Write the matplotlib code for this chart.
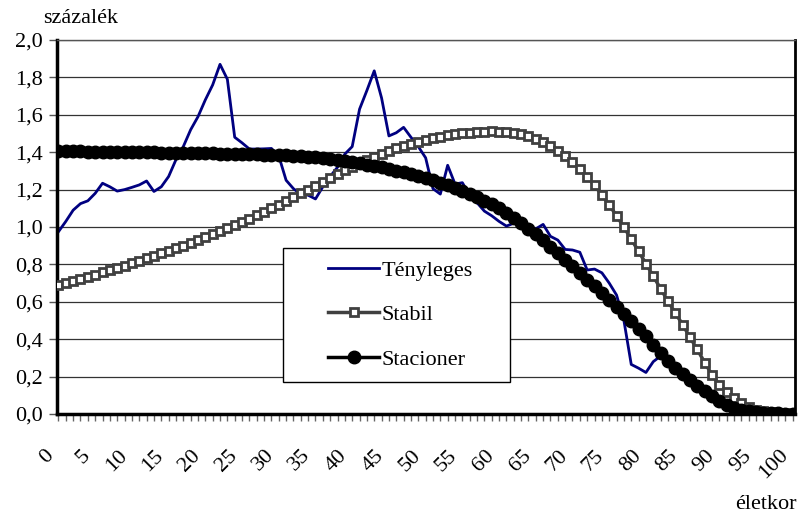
import matplotlib
matplotlib.use("Agg")
import matplotlib.pyplot as plt
from matplotlib.ticker import MultipleLocator, FuncFormatter
from matplotlib.patches import Rectangle
from matplotlib.transforms import ScaledTranslation

plt.rcParams['font.family'] = ['Liberation Serif', 'DejaVu Serif']

ages = list(range(0, 101))

tenyleges = [
    0.975, 1.03, 1.09, 1.125, 1.14, 1.18, 1.234, 1.215, 1.192, 1.20,
    1.212, 1.225, 1.246, 1.19, 1.215, 1.27, 1.36, 1.43, 1.52, 1.59,
    1.68, 1.76, 1.87, 1.79, 1.48, 1.45, 1.417, 1.417, 1.418, 1.42,
    1.38, 1.25, 1.205, 1.175, 1.17, 1.15, 1.215, 1.27, 1.32, 1.39,
    1.43, 1.63, 1.73, 1.835, 1.69, 1.487, 1.504, 1.533, 1.48, 1.43,
    1.37, 1.205, 1.176, 1.33, 1.23, 1.237, 1.17, 1.13, 1.085, 1.06,
    1.03, 1.005, 1.02, 1.01, 1.00, 0.99, 1.014, 0.95, 0.93, 0.88,
    0.877, 0.865, 0.77, 0.775, 0.755, 0.70, 0.636, 0.50, 0.265, 0.245,
    0.222, 0.28, 0.31, 0.275, 0.24, 0.205, 0.17, 0.14, 0.115, 0.09,
    0.068, 0.05, 0.035, 0.024, 0.016, 0.010, 0.007, 0.005, 0.003, 0.002,
    0.001,
]

stabil = [
    0.690, 0.700, 0.711, 0.722, 0.733, 0.745, 0.757, 0.769, 0.781, 0.794,
    0.807, 0.820, 0.833, 0.846, 0.860, 0.873, 0.887, 0.901, 0.915, 0.930,
    0.945, 0.960, 0.976, 0.992, 1.009, 1.026, 1.044, 1.062, 1.081, 1.100,
    1.119, 1.139, 1.159, 1.180, 1.200, 1.221, 1.242, 1.263, 1.283, 1.303,
    1.322, 1.341, 1.358, 1.375, 1.391, 1.406, 1.420, 1.433, 1.445, 1.456,
    1.466, 1.475, 1.483, 1.490, 1.496, 1.501, 1.505, 1.508, 1.510, 1.511,
    1.510, 1.507, 1.502, 1.495, 1.485, 1.472, 1.455, 1.434, 1.409, 1.380,
    1.347, 1.310, 1.268, 1.222, 1.172, 1.118, 1.060, 0.999, 0.935, 0.870,
    0.804, 0.737, 0.670, 0.604, 0.540, 0.478, 0.410, 0.345, 0.275, 0.210,
    0.155, 0.115, 0.083, 0.057, 0.037, 0.024, 0.015, 0.009, 0.006, 0.004,
    0.002,
]

stacioner = [
    1.405, 1.405, 1.404, 1.404, 1.403, 1.403, 1.402, 1.402, 1.401, 1.401,
    1.400, 1.400, 1.399, 1.399, 1.398, 1.398, 1.397, 1.397, 1.396, 1.395,
    1.395, 1.394, 1.393, 1.392, 1.391, 1.390, 1.389, 1.388, 1.387, 1.386,
    1.385, 1.383, 1.381, 1.378, 1.375, 1.372, 1.368, 1.364, 1.359, 1.353,
    1.347, 1.341, 1.334, 1.327, 1.319, 1.310, 1.301, 1.292, 1.282, 1.271,
    1.262, 1.250, 1.237, 1.223, 1.208, 1.193, 1.177, 1.160, 1.141, 1.121,
    1.100, 1.075, 1.048, 1.020, 0.990, 0.960, 0.928, 0.895, 0.861, 0.826,
    0.790, 0.754, 0.718, 0.682, 0.645, 0.608, 0.571, 0.534, 0.497, 0.455,
    0.415, 0.370, 0.325, 0.285, 0.248, 0.213, 0.180, 0.150, 0.122, 0.097,
    0.068, 0.047, 0.032, 0.021, 0.014, 0.009, 0.006, 0.004, 0.003, 0.002,
    0.002,
]

series_labels = ["Tényleges", "Stabil", "Stacioner"]
y_label = "százalék"
x_label = "életkor"

FS = 16

W, H = 799, 515
fig = plt.figure(figsize=(W / 100, H / 100), dpi=100)
ax = fig.add_axes([57 / W, 1 - 414 / H, (795 - 57) / W, (414 - 40) / H])

ax.set_ylim(0, 2.0)
ax.set_xlim(-0.2, 100.3)

ax.yaxis.set_major_locator(MultipleLocator(0.2))
ax.yaxis.set_major_formatter(FuncFormatter(lambda v, _: f"{v:.1f}".replace('.', ',')))
ax.xaxis.set_major_locator(MultipleLocator(5))
ax.xaxis.set_minor_locator(MultipleLocator(1))

ax.grid(axis='y', color='#333333', linewidth=0.9, zorder=0)
ax.set_axisbelow(True)

l1, = ax.plot(ages, tenyleges, color='#000080', lw=2.0, zorder=2, label=series_labels[0])
l2, = ax.plot(ages, stabil, color='#404040', lw=2.5, marker='s', markersize=6.3,
              markerfacecolor='white', markeredgecolor='#404040', markeredgewidth=2.0,
              zorder=3, label=series_labels[1])
l3, = ax.plot(ages, stacioner, color='black', lw=2.5, marker='o', markersize=9,
              markerfacecolor='black', markeredgecolor='black', zorder=4,
              label=series_labels[2])

for s in ['left', 'bottom']:
    ax.spines[s].set_linewidth(2.5)
    ax.spines[s].set_color('black')
ax.spines['right'].set_linewidth(2.0)
ax.spines['right'].set_color('black')
ax.spines['top'].set_linewidth(1.0)
ax.spines['top'].set_color('#555555')

ax.tick_params(axis='y', which='major', direction='out', length=6, width=1,
               color='#555555', labelsize=FS, pad=4)
ax.tick_params(axis='x', which='both', direction='out', length=5, width=1,
               color='#666666')
ax.tick_params(axis='x', which='major', labelsize=FS, pad=18)

offset = ScaledTranslation(-1 / 100, 0, fig.dpi_scale_trans)
for lab in ax.get_xticklabels():
    lab.set_rotation(45)
    lab.set_ha('right')
    lab.set_va('top')
    lab.set_transform(lab.get_transform() + offset)

# legend box
x0 = (283 - 57) / 738
x1 = (510 - 57) / 738
y1 = (414 - 248) / 374
y0 = (414 - 382) / 374
rect = Rectangle((x0, y0), x1 - x0, y1 - y0, transform=ax.transAxes,
                 facecolor='white', edgecolor='black', linewidth=1.0, zorder=6)
ax.add_patch(rect)
leg = ax.legend(handles=[l1, l2, l3], loc='upper left',
                bbox_to_anchor=(328 / W, 1 - 260 / H), bbox_transform=fig.transFigure,
                frameon=False, fontsize=FS, handlelength=2.3, handletextpad=0.1,
                labelspacing=1.08, borderpad=0, borderaxespad=0, numpoints=1)
leg.set_zorder(7)

fig.text(43 / W, 1 - 23 / H, y_label, fontsize=FS, ha='left', va='baseline')
fig.text(797 / W, 1 - 509 / H, x_label, fontsize=FS, ha='right', va='baseline')

fig.savefig("out.png", dpi=100)
